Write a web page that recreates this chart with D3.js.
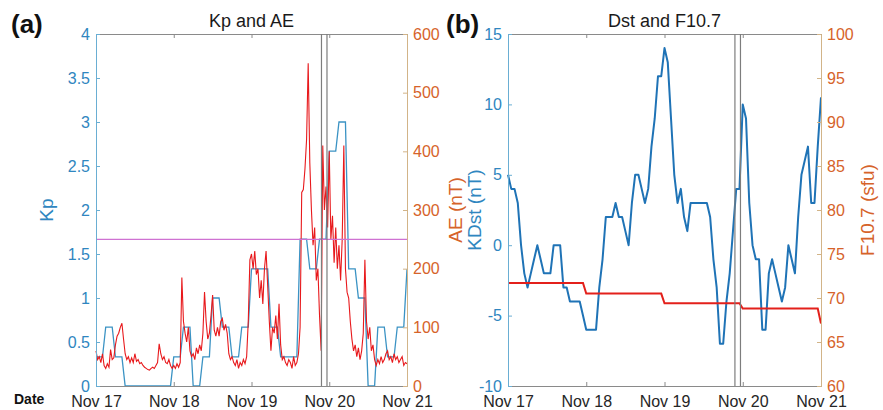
<!DOCTYPE html>
<html>
<head>
<meta charset="utf-8">
<script src="https://cdn.jsdelivr.net/npm/d3@7"></script>
<style>
  body { margin: 0; background: #fff; }
  svg { font-family: "Liberation Sans", Arial, sans-serif; }
</style>
</head>
<body>
<script>
// Kp, AE, Dst and F10.7, Nov 17 - Nov 21

// Day Ticks (hours from Nov 17 00:00)
const dayLabels = ["Nov 17", "Nov 18", "Nov 19", "Nov 20", "Nov 21"];
const dayHours = [0, 24, 48, 72, 96];

// Kp, 3-hourly
const kp = [0.33, 0.67, 0.33, 0, 0, 0, 0, 0,
            0.33, 0.67, 0, 0.33, 1.0, 0.67, 0.33, 0.67,
            1.33, 1.33, 0.67, 0.33, 0.33, 1.67, 1.33, 1.67,
            2.67, 3.0, 1.33, 1.0, 0, 0.67, 0.33, 0.67,
            1.33];

// AE (nT), every 30 min
const ae = [60, 45, 50, 40, 55, 35, 30, 38, 32, 62, 45, 48, 70, 85, 90, 100, 107, 80, 55, 45,
            50, 40, 48, 40, 55, 42, 45, 38, 40, 35, 32, 30, 28, 27, 30, 32, 30, 35, 40, 72,
            55, 45, 50, 40, 38, 45, 35, 30, 35, 30, 38, 32, 40, 185, 110, 90, 75, 100, 60, 50,
            55, 45, 65, 55, 70, 60, 90, 160, 110, 80, 90, 120, 155, 95, 85, 100, 85, 110, 115, 95,
            105, 90, 55, 45, 50, 40, 35, 45, 30, 40, 35, 45, 38, 50, 110, 215, 225, 200, 230, 190,
            200, 150, 180, 140, 200, 230, 170, 110, 60, 100, 90, 120, 80, 140, 70, 45, 50, 40, 35, 45,
            40, 30, 50, 35, 40, 55, 100, 330, 335, 370, 420, 550, 380, 300, 240, 270, 180, 200, 120, 60,
            410, 300, 340, 270, 400, 250, 290, 210, 270, 200, 240, 180, 250, 410, 200, 160, 150, 110, 80, 60,
            70, 50, 65, 45, 60, 90, 215, 110, 80, 100, 60, 70, 45, 35, 45, 38, 50, 40, 45, 55,
            60, 45, 50, 40, 55, 45, 50, 40, 45, 50, 35, 40, 38];
const aeThreshold = 250;

// KDst (nT), hourly
const dst = [5, 4, 4, 3, 0, -2, -3, -2, -1, 0, -1, -2, -2, -2, 0, 0, 0, -3, -3, -4,
             -4, -4, -4, -5, -6, -6, -6, -6, -3, -1, 2, 2, 2, 3, 2, 2, 1, 0, 3, 5,
             5, 4, 3, 4, 7, 9, 12, 12, 14, 13, 9, 5, 3, 4, 2, 1, 3, 3, 3, 3,
             3, 3, 2, -1, -3, -7, -7, -4, -2, 1, 4, 4, 10, 9, 3, 0, -1, -1, -6, -6,
             -2, -1, -2, -3, -4, -3, 0, -1, -2, 2, 5, 6, 7, 3, 3, 7, 10.5];

// F10.7 (sfu), daily
const f107 = [71.7, 70.5, 69.4, 68.8, 67.1];

// Event Times (hours from Nov 17 00:00)
const eventHours = [69.6, 71.3];

// Axis Ticks
const kpTicks = [0, 0.5, 1, 1.5, 2, 2.5, 3, 3.5, 4];
const aeTicks = [0, 100, 200, 300, 400, 500, 600];
const dstTicks = [-10, -5, 0, 5, 10, 15];
const f107Ticks = [60, 65, 70, 75, 80, 85, 90, 95, 100];

// Layout
const w = 883;
const h = 410;
const plotTop = 34;
const plotBottom = 386;

const blue = "#2f86c0";
const blueAxis = "#6aaed3";
const orange = "#d6632a";
const orangeAxis = "#d2b488";
const grey = "#8a8a8a";

const svg = d3.select("body")
  .append("svg")
  .attr("width", w)
  .attr("height", h);

// Draw one panel's axes box
function drawAxes(x, yL, yR, leftTicks, rightTicks) {
  const [x0, x1] = x.range();

  const bottomAxis = svg.append("g")
    .attr("transform", "translate(0," + plotBottom + ")")
    .call(d3.axisBottom(x).tickValues(dayHours).tickFormat((d, i) => dayLabels[i]).tickSize(-4).tickPadding(10));
  bottomAxis.selectAll("text").attr("fill", "#262626").style("font-size", "16px").style("font-family", "Liberation Sans, Arial, sans-serif");
  bottomAxis.selectAll("line, path").attr("stroke", grey);

  const topAxis = svg.append("g")
    .attr("transform", "translate(0," + plotTop + ")")
    .call(d3.axisTop(x).tickValues(dayHours).tickFormat("").tickSize(-4));
  topAxis.selectAll("line, path").attr("stroke", grey);

  const leftAxis = svg.append("g")
    .attr("transform", "translate(" + x0 + ",0)")
    .call(d3.axisLeft(yL).tickValues(leftTicks).tickFormat(d => d).tickSize(-4).tickPadding(6));
  leftAxis.selectAll("text").attr("fill", blue).style("font-size", "16px").style("font-family", "Liberation Sans, Arial, sans-serif");
  leftAxis.selectAll("line, path").attr("stroke", blueAxis);

  const rightAxis = svg.append("g")
    .attr("transform", "translate(" + x1 + ",0)")
    .call(d3.axisRight(yR).tickValues(rightTicks).tickFormat(d => d).tickSize(-4).tickPadding(6));
  rightAxis.selectAll("text").attr("fill", orange).style("font-size", "16px").style("font-family", "Liberation Sans, Arial, sans-serif");
  rightAxis.selectAll("line, path").attr("stroke", orangeAxis);

  // Event Lines
  svg.selectAll(null)
    .data(eventHours)
    .enter()
    .append("line")
    .attr("x1", d => x(d))
    .attr("x2", d => x(d))
    .attr("y1", plotTop)
    .attr("y2", plotBottom)
    .attr("stroke", "#7d7d7d")
    .attr("stroke-width", 1.2);
}

function yLabel(xPos, text, color) {
  svg.append("text")
    .attr("transform", "translate(" + xPos + "," + ((plotTop + plotBottom) / 2) + ") rotate(-90)")
    .attr("text-anchor", "middle")
    .attr("fill", color)
    .style("font-size", "19px")
    .text(text);
}

function title(xPos, text) {
  svg.append("text")
    .attr("x", xPos)
    .attr("y", 27)
    .attr("text-anchor", "middle")
    .attr("fill", "#1a1a1a")
    .style("font-size", "18px")
    .text(text);
}

function panelTag(xPos, text) {
  svg.append("text")
    .attr("x", xPos)
    .attr("y", 33)
    .attr("fill", "#111")
    .style("font-size", "26px")
    .style("font-weight", "bold")
    .text(text);
}

// ---------- Panel (a): Kp and AE ----------
const xA = d3.scaleLinear().domain([0, 96]).range([96, 407]);
const yKp = d3.scaleLinear().domain([0, 4]).range([plotBottom, plotTop]);
const yAe = d3.scaleLinear().domain([0, 600]).range([plotBottom, plotTop]);

// Kp held for each 3-hour block (hourly samples)
const kpPoints = kp.flatMap((v, i) => i < kp.length - 1 ? [[3 * i, v], [3 * i + 2, v]] : [[3 * i, v]]);

svg.append("path")
  .datum(kpPoints)
  .attr("fill", "none")
  .attr("stroke", "#3b93c4")
  .attr("stroke-width", 1.3)
  .attr("d", d3.line().x(d => xA(d[0])).y(d => yKp(d[1])));

svg.append("path")
  .datum(ae)
  .attr("fill", "none")
  .attr("stroke", "#e8191c")
  .attr("stroke-width", 1.1)
  .attr("d", d3.line().x((d, i) => xA(i * 0.5)).y(d => yAe(d)));

svg.append("line")
  .attr("x1", xA(0))
  .attr("x2", xA(96))
  .attr("y1", yAe(aeThreshold))
  .attr("y2", yAe(aeThreshold))
  .attr("stroke", "#cf72d2")
  .attr("stroke-width", 1.2);

drawAxes(xA, yKp, yAe, kpTicks, aeTicks);
title(251.5, "Kp and AE");
panelTag(11, "(a)");
yLabel(53, "Kp", blue);
yLabel(462, "AE (nT)", orange);

// ---------- Panel (b): Dst and F10.7 ----------
const xB = d3.scaleLinear().domain([0, 96]).range([508, 821]);
const yDst = d3.scaleLinear().domain([-10, 15]).range([plotBottom, plotTop]);
const yF = d3.scaleLinear().domain([60, 100]).range([plotBottom, plotTop]);

svg.append("path")
  .datum(dst)
  .attr("fill", "none")
  .attr("stroke", "#1f73b6")
  .attr("stroke-width", 2)
  .attr("stroke-linejoin", "round")
  .attr("d", d3.line().x((d, i) => xB(i)).y(d => yDst(d)));

// F10.7 held over each day (hourly samples)
const fPoints = f107.flatMap((v, i) => i < f107.length - 1 ? [[24 * i, v], [24 * i + 23, v]] : [[24 * i, v]]);

svg.append("path")
  .datum(fPoints)
  .attr("fill", "none")
  .attr("stroke", "#e3201b")
  .attr("stroke-width", 2)
  .attr("d", d3.line().x(d => xB(d[0])).y(d => yF(d[1])));

drawAxes(xB, yDst, yF, dstTicks, f107Ticks);
title(664.5, "Dst and F10.7");
panelTag(446, "(b)");
yLabel(481, "KDst (nT)", blue);
yLabel(874, "F10.7 (sfu)", orange);

// Date Label
svg.append("text")
  .attr("x", 14)
  .attr("y", 404)
  .attr("fill", "#111")
  .style("font-size", "14px")
  .style("font-weight", "bold")
  .text("Date");
</script>
</body>
</html>
